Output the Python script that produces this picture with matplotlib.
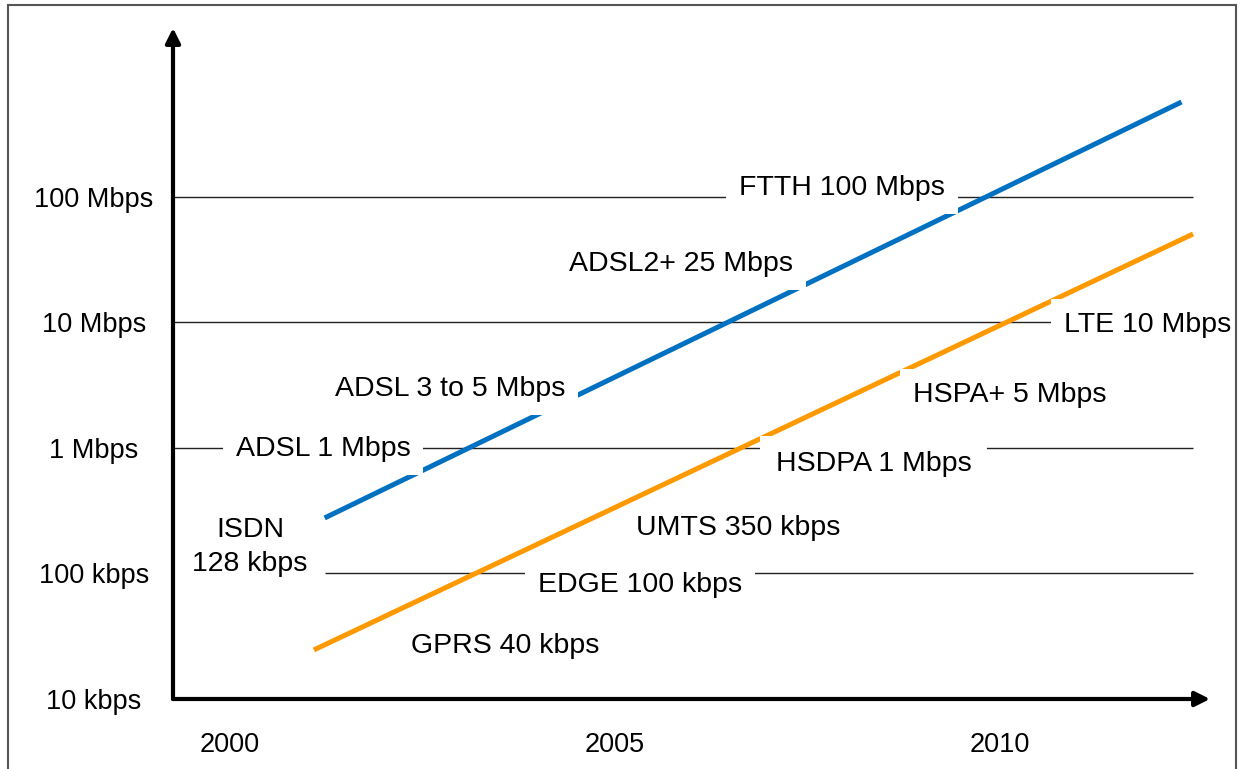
import matplotlib.pyplot as plt
from matplotlib.patches import Rectangle

plt.rcParams['font.family'] = ['Liberation Sans', 'DejaVu Sans']

# fixed and mobile access speed trends (bps)
fixed_years = [2001.23, 2012.36]
fixed_bps = [2.77e5, 5.71e8]
mobile_years = [2001.09, 2012.51]
mobile_bps = [2.46e4, 5.07e7]

# axis ticks
year_ticks = [2000, 2005, 2010]
speed_ticks = [1e4, 1e5, 1e6, 1e7, 1e8]
speed_labels = ['10 kbps', '100 kbps', '1 Mbps', '10 Mbps', '100 Mbps']
grid_levels = [1e5, 1e6, 1e7, 1e8]

# technology labels
tech_names = ['FTTH 100 Mbps', 'ADSL2+ 25 Mbps', 'ADSL 3 to 5 Mbps', 'ADSL 1 Mbps',
              'ISDN\n128 kbps', 'EDGE 100 kbps', 'GPRS 40 kbps', 'UMTS 350 kbps',
              'HSDPA 1 Mbps', 'HSPA+ 5 Mbps', 'LTE 10 Mbps']
tech_years = [2007.95, 2005.86, 2002.86, 2001.21, 2000.26, 2005.33, 2003.57,
              2006.60, 2008.36, 2010.13, 2011.92]
tech_bps = [1.18e8, 2.92e7, 2.95e6, 0.98e6, 1.62e5, 8.1e4, 2.64e4,
            2.30e5, 7.4e5, 2.64e6, 0.96e7]

fig = plt.figure(figsize=(12.44, 7.69), dpi=100)
W, H = 1244, 769
ax = fig.add_axes([173 / W, 1 - 699 / H, (1210 - 173) / W, (699 - 28) / H])
ax.set_yscale('log')
ax.set_xlim(1999.26, 2012.73)
ax.set_ylim(1e4, 2.22e9)

for s in ax.spines.values():
    s.set_visible(False)

# gridlines: the 100 kbps one starts where the fixed line starts
for lvl in grid_levels:
    x0 = fixed_years[0] if lvl == 1e5 else 1999.26
    ax.hlines(lvl, x0, mobile_years[-1], color='#222222', lw=1, zorder=1)

ax.plot(fixed_years, fixed_bps, color='#0070C0', lw=3.6, solid_capstyle='butt', zorder=2)
ax.plot(mobile_years, mobile_bps, color='#FF9900', lw=3.6, solid_capstyle='butt', zorder=2)

for name, yr, v in zip(tech_names, tech_years, tech_bps):
    pad = 0.3 if name.startswith('UMTS') else 0.45
    if name.startswith('HSDPA'):
        pad = 0.55
    ax.text(yr, v, name, fontsize=20.5, ha='center', va='center', zorder=3,
            linespacing=1.4,
            bbox=dict(boxstyle='square,pad=%.2f' % pad, fc='white', ec='none'))

# axes as arrows
arrow = dict(arrowstyle='-|>', lw=3, color='black', mutation_scale=22,
             shrinkA=0, shrinkB=0)
ax.annotate('', xy=(1, 0), xytext=(0, 0), xycoords='axes fraction', arrowprops=arrow)
ax.annotate('', xy=(0, 1), xytext=(0, 0), xycoords='axes fraction', arrowprops=arrow)

ax.set_xticks(year_ticks, [str(y) for y in year_ticks])
ax.set_yticks(speed_ticks, speed_labels)
ax.minorticks_off()
ax.tick_params(axis='x', length=0, pad=24, labelsize=19.5)
ax.tick_params(axis='y', length=0, pad=57, labelsize=19.5)
for lab in ax.get_yticklabels():
    lab.set_horizontalalignment('center')

# slide frame
fig.patches.append(Rectangle((8 / W, -0.05), (1236 - 8) / W, 1.05 - 5 / H,
                             transform=fig.transFigure, fill=False,
                             ec='#555555', lw=1.5))

fig.savefig('out.png', dpi=100)
